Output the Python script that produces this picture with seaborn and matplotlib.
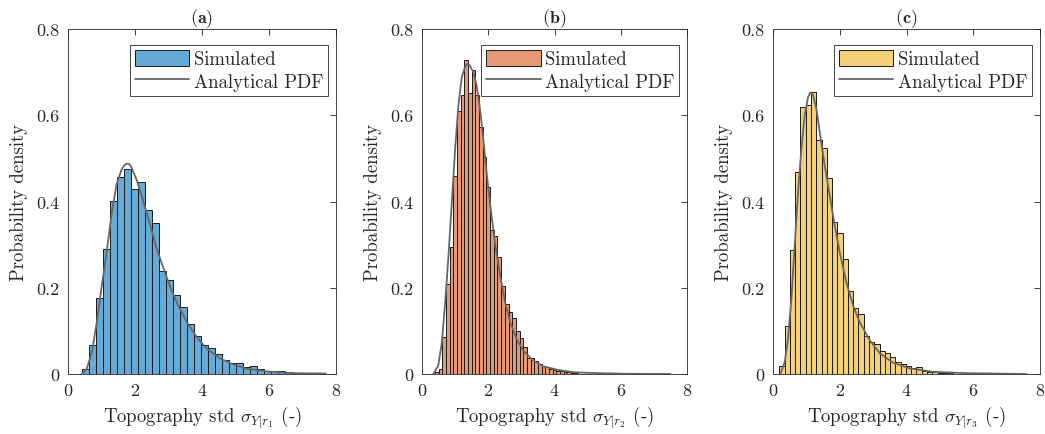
import numpy as np
import pandas as pd
import matplotlib
matplotlib.use("Agg")
import matplotlib.pyplot as plt
import seaborn as sns
from matplotlib.patches import Patch
from matplotlib.lines import Line2D
from matplotlib.ticker import FormatStrFormatter

# --- data (bin start, bin width, bar heights, pdf curve points)
start_a, width_a = 0.41, 0.209
heights_a = [0.011, 0.068, 0.176, 0.291, 0.402, 0.456, 0.476, 0.428, 0.446, 0.380,
             0.349, 0.239, 0.219, 0.183, 0.155, 0.115, 0.088, 0.067, 0.060, 0.047,
             0.033, 0.026, 0.025, 0.016, 0.018, 0.011, 0.008, 0.006, 0.006, 0.004,
             0.003, 0.002, 0.002, 0.001, 0.001]
curve_x_a = [0.41, 0.56, 0.71, 0.86, 1.0, 1.15, 1.3, 1.45, 1.6, 1.68, 1.76, 1.84, 1.9,
             2.05, 2.25, 2.45, 2.65, 2.85, 3.05, 3.24, 3.54, 3.84, 4.14, 4.54, 4.94,
             5.33, 5.93, 6.7, 7.7]
curve_y_a = [0.0, 0.012, 0.05, 0.12, 0.2, 0.28, 0.37, 0.44, 0.474, 0.484, 0.488, 0.486,
             0.478, 0.45, 0.40, 0.346, 0.29, 0.245, 0.202, 0.167, 0.121, 0.086, 0.059,
             0.036, 0.022, 0.012, 0.006, 0.002, 0.001]

start_b, width_b = 0.392, 0.111
heights_b = [0.004, 0.012, 0.085, 0.209, 0.295, 0.459, 0.609, 0.646, 0.727, 0.651,
             0.706, 0.646, 0.572, 0.503, 0.433, 0.333, 0.321, 0.272, 0.205, 0.162,
             0.143, 0.131, 0.100, 0.083, 0.062, 0.037, 0.036, 0.030, 0.023, 0.019,
             0.016, 0.012, 0.010, 0.008, 0.006, 0.005, 0.004, 0.003, 0.002]
curve_x_b = [0.34, 0.49, 0.60, 0.70, 0.80, 0.90, 1.0, 1.10, 1.20, 1.30, 1.36, 1.43,
             1.55, 1.65, 1.75, 1.85, 1.95, 2.05, 2.20, 2.36, 2.51, 2.66, 2.86, 3.06,
             3.36, 3.66, 4.07, 4.57, 5.28, 6.2, 7.5]
curve_y_b = [0.0, 0.019, 0.073, 0.166, 0.274, 0.398, 0.522, 0.623, 0.688, 0.712, 0.719,
             0.717, 0.70, 0.669, 0.615, 0.545, 0.468, 0.398, 0.305, 0.228, 0.166, 0.12,
             0.081, 0.054, 0.031, 0.018, 0.010, 0.004, 0.002, 0.0005, 0.0]

start_c, width_c = 0.19, 0.158
heights_c = [0.018, 0.112, 0.288, 0.469, 0.619, 0.624, 0.655, 0.543, 0.523, 0.454,
             0.352, 0.328, 0.267, 0.192, 0.152, 0.139, 0.089, 0.075, 0.069, 0.054,
             0.049, 0.040, 0.027, 0.023, 0.019, 0.013, 0.016, 0.007, 0.005, 0.004,
             0.003, 0.002, 0.002, 0.001]
curve_x_c = [0.22, 0.35, 0.45, 0.55, 0.65, 0.75, 0.85, 0.95, 1.05, 1.12, 1.2, 1.3, 1.4,
             1.55, 1.7, 1.85, 2.0, 2.2, 2.4, 2.6, 2.9, 3.2, 3.6, 4.1, 4.8, 5.8, 7.6]
curve_y_c = [0.0, 0.027, 0.081, 0.174, 0.298, 0.421, 0.522, 0.6, 0.642, 0.653, 0.647,
             0.615, 0.561, 0.483, 0.414, 0.344, 0.282, 0.212, 0.159, 0.12, 0.078, 0.048,
             0.026, 0.013, 0.005, 0.002, 0.0]

panels = [
    ("(a)", r"Topography std $\sigma_{Y|r_1}$ (-)", start_a, width_a, heights_a,
     curve_x_a, curve_y_a, "#66AAD7"),
    ("(b)", r"Topography std $\sigma_{Y|r_2}$ (-)", start_b, width_b, heights_b,
     curve_x_b, curve_y_b, "#E89875"),
    ("(c)", r"Topography std $\sigma_{Y|r_3}$ (-)", start_c, width_c, heights_c,
     curve_x_c, curve_y_c, "#F4D079"),
]

sns.set_style("white")
plt.rcParams["font.family"] = ["cmr10", "DejaVu Serif"]
plt.rcParams["mathtext.fontset"] = "cm"
plt.rcParams["axes.formatter.use_mathtext"] = True

fig = plt.figure(figsize=(10.45, 4.35), dpi=100)
lefts = [68, 422, 773]
widths = [268, 265, 267]
txt = "#262626"

for (title, xlabel, start, width, heights, cx, cy, color), l, w in zip(panels, lefts, widths):
    ax = fig.add_axes([l / 1045, 60 / 435, w / 1045, 345 / 435])
    n = len(heights)
    centers = start + width * (np.arange(n) + 0.5)
    df = pd.DataFrame({"x": centers, "h": heights})
    sns.histplot(data=df, x="x", weights="h", binwidth=width,
                 binrange=(start, start + width * n), stat="count", ax=ax,
                 color=color, alpha=1, edgecolor="#1a1a1a", linewidth=0.7)
    sns.lineplot(x=cx, y=cy, ax=ax, color="#666666", linewidth=1.3, sort=False)

    ax.set_xlim(0, 8)
    ax.set_ylim(0, 0.8)
    ax.set_xticks([0, 2, 4, 6, 8])
    ax.set_yticks([0, 0.2, 0.4, 0.6, 0.8])
    ax.yaxis.set_major_formatter(FormatStrFormatter("%g"))
    ax.tick_params(direction="in", top=True, right=True, length=4, width=0.6,
                   labelsize=13, colors=txt, pad=6)
    for s in ax.spines.values():
        s.set_color(txt)
        s.set_linewidth(0.6)
    ax.set_xlabel(xlabel, fontsize=13.5, color=txt, labelpad=4)
    ax.set_ylabel("Probability density", fontsize=13.5, color=txt, labelpad=6)
    ax.set_title(r"$\mathbf{" + title + "}$", fontsize=13, color=txt, pad=5)

    handles = [Patch(facecolor=color, edgecolor="#1a1a1a", linewidth=0.7),
               Line2D([0], [0], color="#666666", linewidth=1.3)]
    leg = ax.legend(handles, ["Simulated", "Analytical PDF"], loc="upper right",
                    bbox_to_anchor=(0.985, 0.965), fontsize=13.5, fancybox=False,
                    framealpha=1, edgecolor="#262626", handlelength=2.9,
                    handleheight=1.0, handletextpad=0.25, borderpad=0.25,
                    labelspacing=0.2, borderaxespad=0.2)
    leg.get_frame().set_linewidth(0.6)

fig.savefig("out.png", dpi=100)
plt.close(fig)
